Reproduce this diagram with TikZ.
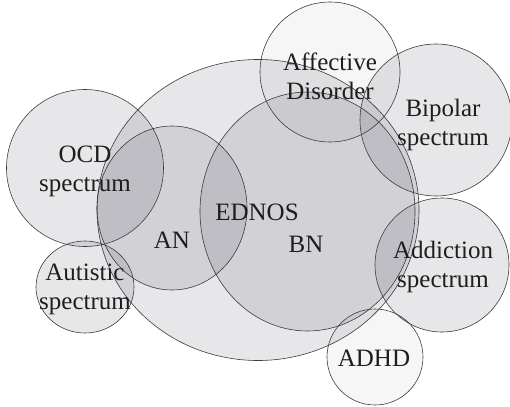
\documentclass[tikz,border=0pt]{standalone}
\usepackage{fontspec}
\setmainfont{Liberation Serif}
\begin{document}
\begin{tikzpicture}[x=1pt,y=-1pt,
  region/.style={draw={rgb,255:red,60;green,60;blue,64}, line width=0.6pt,
    fill={rgb,255:red,20;green,20;blue,40}, fill opacity=0.1},
  paleregion/.style={region, fill opacity=0.04},
  lbl/.style={font=\fontsize{25}{29}\selectfont, align=center, text={rgb,255:red,30;green,30;blue,30}, inner sep=0pt}]
\useasboundingbox (0,0) rectangle (510,406);
\begin{scope}
\clip (0,0) rectangle (510,406);
% eating disorder domain
\path[region] (258,210) ellipse [x radius=161, y radius=150.5];
\path[region] (172,208) ellipse [x radius=75, y radius=82];
\path[region] (307.5,211.5) ellipse [x radius=107.5, y radius=119.5];
% neighbouring spectra
\path[region] (85,168) circle [radius=78.5];
\path[region] (85,287) ellipse [x radius=49, y radius=46];
\path[paleregion] (330,72) circle [radius=70];
\path[region] (436,120) circle [radius=76];
\path[region] (442,265) circle [radius=67];
\path[paleregion] (375,357) circle [radius=48];
\end{scope}
% labels
\node[lbl] (ocd) at (85,171) {OCD\\spectrum};
\node[lbl] (an) at (172,240) {AN};
\node[lbl] (aut) at (85,289) {Autistic\\spectrum};
\node[lbl] (ednos) at (257,212) {EDNOS};
\node[lbl] (bn) at (306,244) {BN};
\node[lbl] (aff) at (330,76) {Affective\\Disorder};
\node[lbl] (bip) at (443,125) {Bipolar\\spectrum};
\node[lbl] (add) at (443,267) {Addiction\\spectrum};
\node[lbl] (adhd) at (374,358) {ADHD};
\end{tikzpicture}
\end{document}
